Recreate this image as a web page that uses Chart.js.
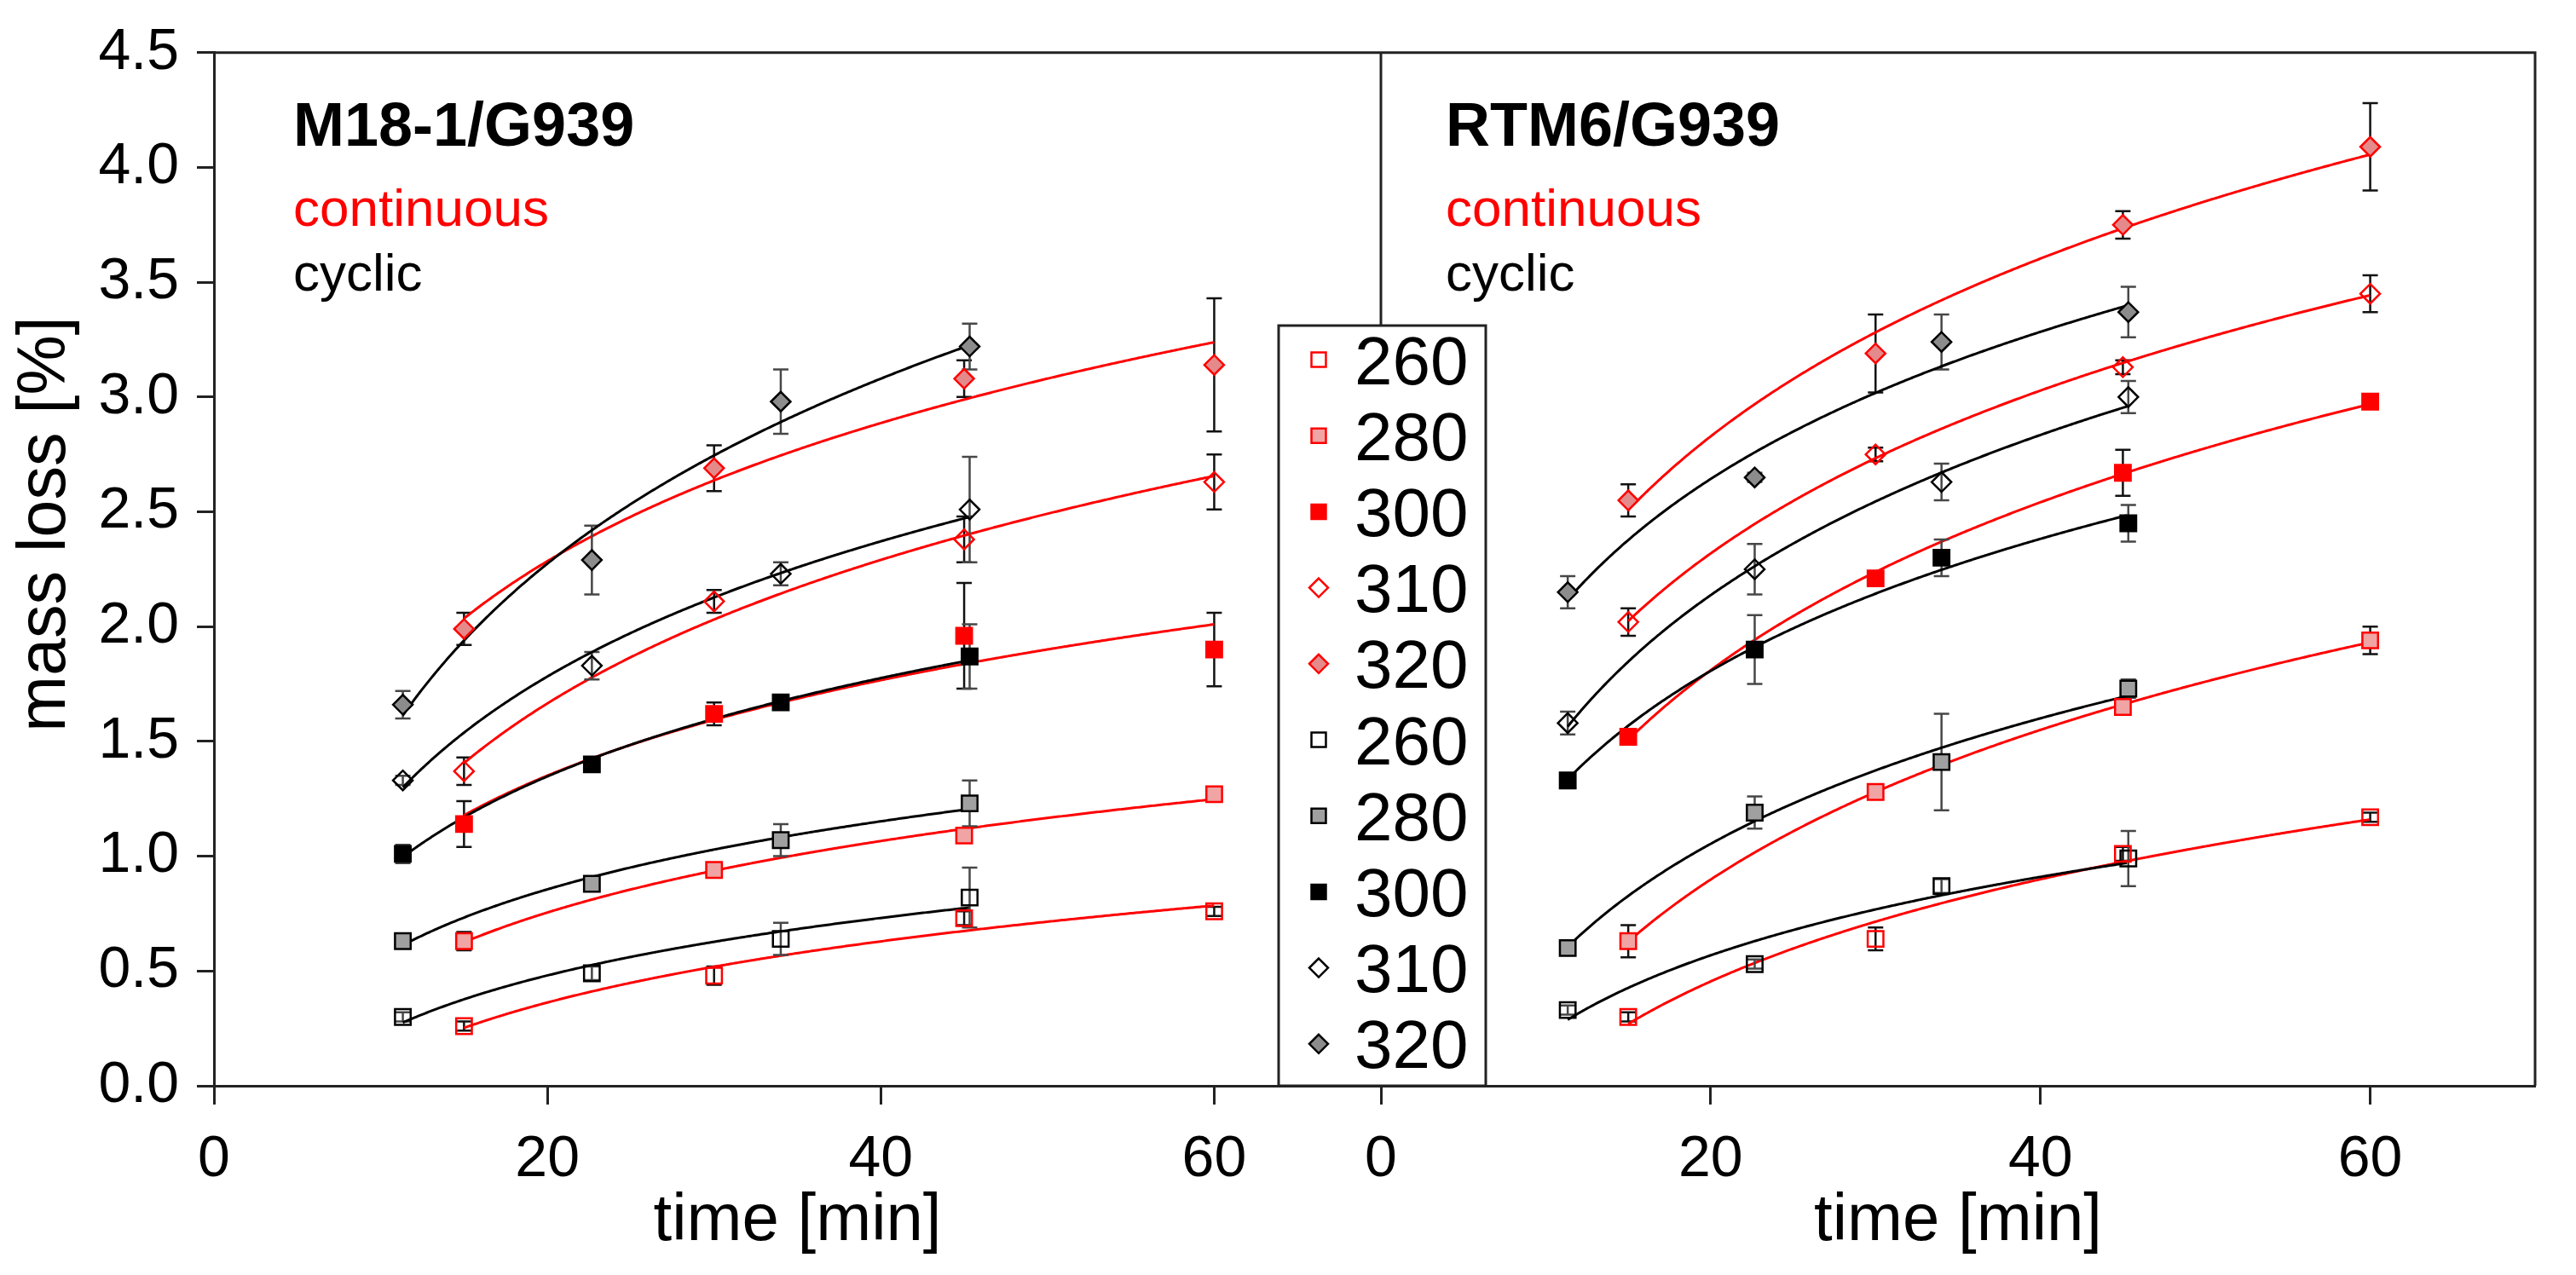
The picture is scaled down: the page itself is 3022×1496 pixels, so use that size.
<!DOCTYPE html>
<html>
<head>
<meta charset="utf-8">
<script src="https://cdn.jsdelivr.net/npm/chart.js@4.4.0/dist/chart.umd.min.js"></script>
<style>
html,body{margin:0;padding:0;background:#fff;}
canvas{display:block;}
</style>
</head>
<body>
<canvas id="c" width="3022" height="1496"></canvas>
<script>
// ---------------- DATA ----------------
const temperatures = ['260', '280', '300', '310', '320'];
const timesContinuous = [15, 30, 45, 60];
const timesCyclic = [11.33, 22.67, 34, 45.33];
const xTickValues = [0, 20, 40, 60];
const yTickValues = [0, 0.5, 1, 1.5, 2, 2.5, 3, 3.5, 4, 4.5];
const panelTitles = ['M18-1/G939', 'RTM6/G939'];
const modeLabels = ['continuous', 'cyclic'];
const xTitle = 'time [min]';
const yTitle = 'mass loss [%]';

// M18-1/G939 (rows: 260, 280, 300, 310, 320)
const m18ContinuousValues = [
  [0.26, 0.48, 0.73, 0.76],
  [0.63, 0.94, 1.09, 1.27],
  [1.14, 1.62, 1.96, 1.90],
  [1.37, 2.11, 2.38, 2.63],
  [1.99, 2.69, 3.08, 3.14]
];
const m18ContinuousErrors = [
  [0.02, 0.04, 0.03, 0.02],
  [0.04, 0.02, 0.03, 0.02],
  [0.10, 0.05, 0.23, 0.16],
  [0.06, 0.05, 0.10, 0.12],
  [0.07, 0.10, 0.08, 0.29]
];
const m18CyclicValues = [
  [0.30, 0.49, 0.64, 0.82],
  [0.63, 0.88, 1.07, 1.23],
  [1.01, 1.40, 1.67, 1.87],
  [1.33, 1.83, 2.23, 2.51],
  [1.66, 2.29, 2.98, 3.22]
];
const m18CyclicErrors = [
  [0.02, 0.03, 0.07, 0.13],
  [0.02, 0.03, 0.07, 0.10],
  [0.04, 0.02, 0.02, 0.14],
  [0.02, 0.06, 0.05, 0.23],
  [0.06, 0.15, 0.14, 0.10]
];

// RTM6/G939 (rows: 260, 280, 300, 310, 320)
const rtm6ContinuousValues = [
  [0.30, 0.64, 1.01, 1.17],
  [0.63, 1.28, 1.65, 1.94],
  [1.52, 2.21, 2.67, 2.98],
  [2.02, 2.75, 3.13, 3.45],
  [2.55, 3.19, 3.75, 4.09]
];
const rtm6ContinuousErrors = [
  [0.02, 0.05, 0.03, 0.02],
  [0.07, 0.03, 0.03, 0.06],
  [0.03, 0.03, 0.10, 0.02],
  [0.06, 0.03, 0.03, 0.08],
  [0.07, 0.17, 0.06, 0.19]
];
const rtm6CyclicValues = [
  [0.33, 0.53, 0.87, 0.99],
  [0.60, 1.19, 1.41, 1.73],
  [1.33, 1.90, 2.30, 2.45],
  [1.58, 2.25, 2.63, 3.00],
  [2.15, 2.65, 3.24, 3.37]
];
const rtm6CyclicErrors = [
  [0.02, 0.02, 0.03, 0.12],
  [0.02, 0.07, 0.21, 0.04],
  [0.02, 0.15, 0.08, 0.08],
  [0.05, 0.11, 0.08, 0.07],
  [0.07, 0.02, 0.12, 0.11]
];

// ---------------- STYLE ----------------
const FONT = '"Liberation Sans", Arial, Helvetica, sans-serif';
const RED = '#ff0000';
const CLEAR = 'rgba(255,255,255,0)';
const styleContinuous = [
  { pointStyle: 'rect', radius: 13, fill: CLEAR, stroke: RED },
  { pointStyle: 'rect', radius: 13, fill: '#f0a4a4', stroke: RED },
  { pointStyle: 'rect', radius: 13, fill: RED, stroke: RED },
  { pointStyle: 'rectRot', radius: 11.5, fill: CLEAR, stroke: RED },
  { pointStyle: 'rectRot', radius: 11.5, fill: '#e48a8a', stroke: RED }
];
const styleCyclic = [
  { pointStyle: 'rect', radius: 13, fill: CLEAR, stroke: '#000' },
  { pointStyle: 'rect', radius: 13, fill: '#a0a0a0', stroke: '#000' },
  { pointStyle: 'rect', radius: 13, fill: '#000', stroke: '#000' },
  { pointStyle: 'rectRot', radius: 11.5, fill: CLEAR, stroke: '#000' },
  { pointStyle: 'rectRot', radius: 11.5, fill: '#8c8c8c', stroke: '#000' }
];

// least-squares logarithmic trend (y = a + b ln t) of a measured series
function logFit(ts, ys) {
  const lx = ts.map(Math.log);
  const n = ts.length;
  const mx = lx.reduce((s, v) => s + v, 0) / n;
  const my = ys.reduce((s, v) => s + v, 0) / n;
  let sxy = 0, sxx = 0;
  for (let i = 0; i < n; i++) { sxy += (lx[i] - mx) * (ys[i] - my); sxx += (lx[i] - mx) * (lx[i] - mx); }
  const b = sxy / sxx, a = my - b * mx;
  return t => a + b * Math.log(t);
}

const panels = [
  { axis: 'xL', cont: m18ContinuousValues, contErr: m18ContinuousErrors, cyc: m18CyclicValues, cycErr: m18CyclicErrors },
  { axis: 'xR', cont: rtm6ContinuousValues, contErr: rtm6ContinuousErrors, cyc: rtm6CyclicValues, cycErr: rtm6CyclicErrors }
];

const datasets = [];
panels.forEach(p => {
  [
    [modeLabels[0], timesContinuous, p.cont, p.contErr, styleContinuous, RED, '#111'],
    [modeLabels[1], timesCyclic, p.cyc, p.cycErr, styleCyclic, '#000', '#474747']
  ].forEach(([mode, ts, vals, errs, styles, lineColor, errColor]) => {
    vals.forEach((ys, k) => {
      datasets.push({
        label: mode + ' ' + temperatures[k],
        xAxisID: p.axis, yAxisID: 'y',
        data: ts.map((t, i) => ({ x: t, y: ys[i] })),
        errors: errs[k], errColor: errColor,
        trend: logFit(ts, ys), trendColor: lineColor,
        showLine: false,
        pointStyle: styles[k].pointStyle,
        pointRadius: styles[k].radius,
        pointBackgroundColor: styles[k].fill,
        pointBorderColor: styles[k].stroke,
        pointBorderWidth: 2.5
      });
    });
  });
});

// ---------------- PLUGINS ----------------
const whiteBg = {
  id: 'whiteBg',
  beforeDraw(chart) {
    const c = chart.ctx; c.save(); c.fillStyle = '#fff'; c.fillRect(0, 0, chart.width, chart.height); c.restore();
  }
};

// error bars + trend curves, drawn beneath the markers through the chart's scales
const errorBarsAndTrends = {
  id: 'errorBarsAndTrends',
  beforeDatasetsDraw(chart) {
    const c = chart.ctx, ys = chart.scales.y;
    chart.data.datasets.forEach((ds, i) => {
      const meta = chart.getDatasetMeta(i);
      const xs = meta.xScale;
      c.save();
      if (ds.errors) {
        c.strokeStyle = ds.errColor; c.lineWidth = 2.5;
        meta.data.forEach((el, j) => {
          const v = ds.data[j].y, e = ds.errors[j];
          const yt = ys.getPixelForValue(v + e), yb = ys.getPixelForValue(v - e);
          c.beginPath();
          c.moveTo(el.x, yt); c.lineTo(el.x, yb);
          c.moveTo(el.x - 9, yt); c.lineTo(el.x + 9, yt);
          c.moveTo(el.x - 9, yb); c.lineTo(el.x + 9, yb);
          c.stroke();
        });
      }
      if (ds.trend) {
        const t0 = ds.data[0].x, t1 = ds.data[ds.data.length - 1].x;
        const px0 = xs.getPixelForValue(t0), px1 = xs.getPixelForValue(t1);
        c.strokeStyle = ds.trendColor; c.lineWidth = 3; c.lineJoin = 'round';
        c.beginPath();
        for (let px = px0; px <= px1 + 0.01; px += 2) {
          const t = xs.getValueForPixel(Math.min(px, px1));
          const py = ys.getPixelForValue(ds.trend(t));
          if (px === px0) c.moveTo(px, py); else c.lineTo(px, py);
        }
        c.stroke();
      }
      c.restore();
    });
  }
};

function drawMarker(c, style, x, y, r) {
  c.save();
  c.fillStyle = style.fill; c.strokeStyle = style.stroke; c.lineWidth = 2.5;
  c.beginPath();
  if (style.pointStyle === 'rect') {
    const s = r * Math.SQRT1_2;
    c.rect(x - s, y - s, 2 * s, 2 * s);
  } else {
    c.moveTo(x, y - r); c.lineTo(x + r, y); c.lineTo(x, y + r); c.lineTo(x - r, y); c.closePath();
  }
  c.fill(); c.stroke();
  c.restore();
}

const decorations = {
  id: 'decorations',
  afterDraw(chart) {
    const c = chart.ctx, a = chart.chartArea;
    const xL = chart.scales.xL, xR = chart.scales.xR;
    const legendBox = { left: 1500, right: 1743, top: 382 };
    c.save();
    c.strokeStyle = '#222'; c.lineWidth = 3;
    c.beginPath();
    c.moveTo(a.left, a.top); c.lineTo(a.right, a.top); c.lineTo(a.right, a.bottom);
    c.moveTo(xR.left, a.top); c.lineTo(xR.left, legendBox.top);
    c.stroke();

    [xL, xR].forEach((s, p) => {
      const x0 = s.left + (p === 0 ? 93 : 76);
      c.textAlign = 'left'; c.textBaseline = 'alphabetic';
      c.fillStyle = '#000'; c.font = 'bold 72px ' + FONT;
      c.fillText(panelTitles[p], x0, 171);
      c.font = '62px ' + FONT;
      c.fillStyle = RED; c.fillText(modeLabels[0], x0, 265);
      c.fillStyle = '#000'; c.fillText(modeLabels[1], x0, 341);
    });

    c.save();
    c.translate(76, 615); c.rotate(-Math.PI / 2);
    c.textAlign = 'center'; c.textBaseline = 'alphabetic';
    c.fillStyle = '#000'; c.font = '79px ' + FONT;
    c.fillText(yTitle, 0, 0);
    c.restore();

    c.fillStyle = '#fff';
    c.fillRect(legendBox.left, legendBox.top, legendBox.right - legendBox.left, a.bottom - legendBox.top);
    c.strokeStyle = '#222'; c.lineWidth = 3;
    c.strokeRect(legendBox.left, legendBox.top, legendBox.right - legendBox.left, a.bottom - legendBox.top);
    const entries = styleContinuous.map((s, k) => [s, temperatures[k]]).concat(styleCyclic.map((s, k) => [s, temperatures[k]]));
    c.font = '80px ' + FONT; c.textAlign = 'left'; c.textBaseline = 'alphabetic';
    entries.forEach(([style, label], i) => {
      const cy = 422 + i * 89.2;
      drawMarker(c, style, 1547, cy, style.pointStyle === 'rect' ? 12 : 11);
      c.fillStyle = '#000';
      c.fillText(label, 1589, cy + 28.5);
    });
    c.restore();
  }
};

// ---------------- SCALES ----------------
function xScale(weight) {
  return {
    type: 'linear', axis: 'x', position: 'bottom', stack: 'panels', stackWeight: weight,
    min: 0, max: 70,
    afterBuildTicks: s => { s.ticks = xTickValues.map(v => ({ value: v })); },
    ticks: { font: { size: 68, family: FONT }, color: '#000', padding: 24, maxRotation: 0, autoSkip: false },
    grid: { display: true, drawOnChartArea: false, drawTicks: true, tickLength: 22, tickWidth: 3, tickColor: '#222' },
    border: { display: true, color: '#222', width: 3 },
    title: { display: true, text: xTitle, color: '#000', font: { size: 78, family: FONT }, padding: { top: 0, bottom: 16 } },
    afterFit: s => { s.height = 1496 - 1274; }
  };
}

new Chart(document.getElementById('c'), {
  type: 'scatter',
  data: { datasets },
  options: {
    responsive: false, animation: false, devicePixelRatio: 1,
    layout: { padding: { top: 53, right: 48, left: 0, bottom: 0 } },
    plugins: { legend: { display: false }, tooltip: { enabled: false } },
    scales: {
      y: {
        type: 'linear', axis: 'y', position: 'left', min: 0, max: 4.5,
        afterBuildTicks: s => { s.ticks = yTickValues.map(v => ({ value: v })); },
        ticks: { font: { size: 68, family: FONT }, color: '#000', padding: 21, callback: v => Number(v).toFixed(1) },
        grid: { display: true, drawOnChartArea: false, drawTicks: true, tickLength: 20, tickWidth: 3, tickColor: '#222' },
        border: { display: true, color: '#222', width: 3 },
        afterFit: s => { s.width = 251; }
      },
      xL: xScale(1369),
      xR: xScale(1354)
    }
  },
  plugins: [whiteBg, errorBarsAndTrends, decorations]
});
</script>
</body>
</html>
